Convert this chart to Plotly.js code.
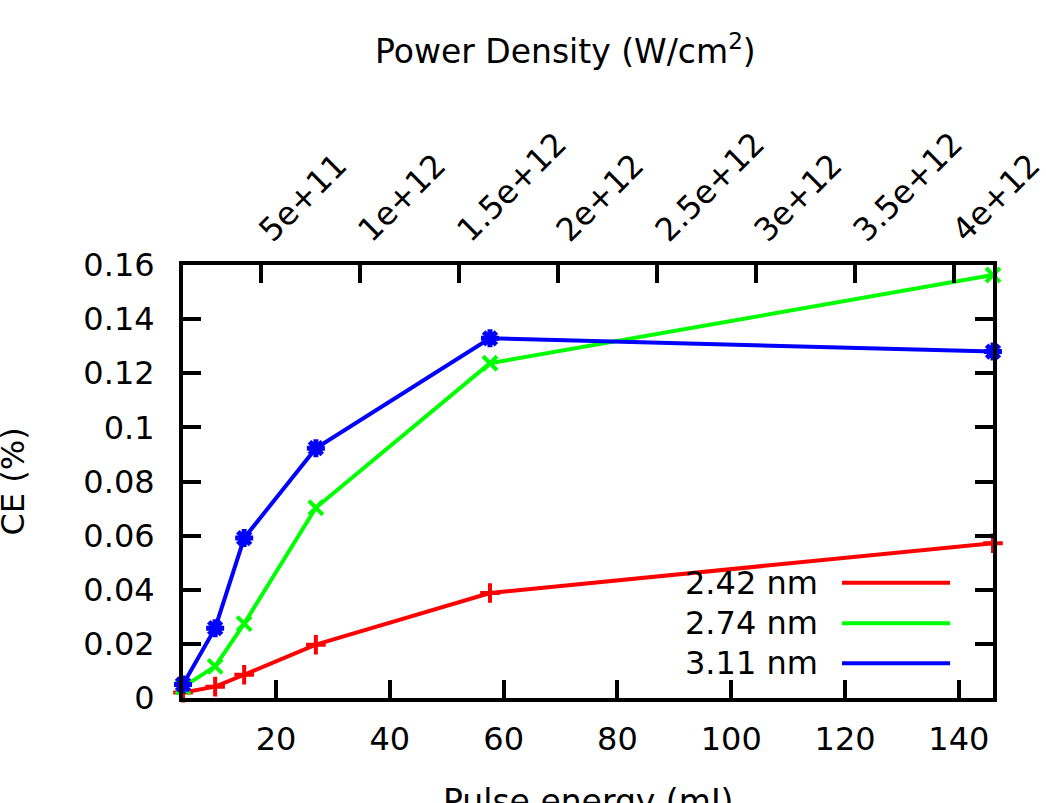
<!DOCTYPE html>
<html>
<head>
<meta charset="utf-8">
<script src="https://cdn.plot.ly/plotly-3.0.1.min.js"></script>
<style>
  html, body { margin: 0; padding: 0; background: #ffffff; }
  #chart { width: 1046px; height: 803px; }
</style>
</head>
<body>
<div id="chart"></div>
<script>
// ---- data ----
const pulseEnergy = [3.65, 9.3, 14.4, 27.0, 57.6, 146];      // mJ
const ce242 = [0.002, 0.0042, 0.0086, 0.0197, 0.0388, 0.0572]; // CE (%) 2.42 nm
const ce274 = [0.004, 0.0117, 0.0275, 0.0703, 0.1237, 0.1563]; // CE (%) 2.74 nm
const ce311 = [0.005, 0.0258, 0.0591, 0.0923, 0.1329, 0.1280]; // CE (%) 3.11 nm
const seriesNames = ['2.42 nm', '2.74 nm', '3.11 nm'];
const seriesColors = ['#ff0000', '#00ff00', '#0000ff'];
const seriesSymbols = ['cross-thin-open', 'x-thin-open', 'asterisk-open'];
const energyTicks = [20, 40, 60, 80, 100, 120, 140];
const powerTicks = [5e11, 1e12, 1.5e12, 2e12, 2.5e12, 3e12, 3.5e12, 4e12];
const powerTickLabels = ['5e+11', '1e+12', '1.5e+12', '2e+12', '2.5e+12', '3e+12', '3.5e+12', '4e+12'];
const powerPerEnergy = 2.873e10; // W/cm^2 per mJ
const yTicks = [0, 0.02, 0.04, 0.06, 0.08, 0.1, 0.12, 0.14, 0.16];
const xTitle = 'Pulse energy (mJ)';
const x2Title = 'Power Density (W/cm<sup>2</sup>)';
const yTitle = 'CE (%)';

const FONT = 'DejaVu Sans, sans-serif';
const seriesValues = [ce242, ce274, ce311];

const traces = seriesValues.map((vals, i) => ({
  type: 'scatter',
  mode: 'lines+markers',
  name: seriesNames[i],
  x: pulseEnergy,
  y: vals,
  cliponaxis: false,
  line: { color: seriesColors[i], width: 4 },
  marker: {
    symbol: seriesSymbols[i],
    size: i === 2 ? 15 : 14,
    color: seriesColors[i],
    line: { color: seriesColors[i], width: i === 2 ? 5 : 4 }
  },
  showlegend: false,
  hoverinfo: 'x+y+name'
}));

// invisible trace to carry the top (power density) axis
traces.push({
  type: 'scatter',
  mode: 'lines',
  x: pulseEnergy.map(e => e * powerPerEnergy),
  y: ce242,
  xaxis: 'x2',
  yaxis: 'y',
  line: { width: 0, color: 'rgba(0,0,0,0)' },
  opacity: 0,
  showlegend: false,
  hoverinfo: 'skip'
});

const axisCommon = {
  showgrid: false,
  zeroline: false,
  showline: true,
  linecolor: '#000000',
  linewidth: 4,
  ticks: 'inside',
  ticklen: 18,
  tickwidth: 4,
  tickcolor: '#000000',
  tickfont: { family: FONT, size: 32, color: '#000000' }
};

// legend drawn gnuplot-style: right-aligned text, then line sample
const legendX0 = 0.7864, lineX0 = 0.8136, lineX1 = 0.947;
const legendY = [0.2663, 0.1725, 0.0801];
const annotations = seriesNames.map((n, i) => ({
  xref: 'paper', yref: 'paper',
  x: legendX0, y: legendY[i],
  xanchor: 'right', yanchor: 'middle',
  text: n, showarrow: false,
  font: { family: FONT, size: 32, color: '#000000' }
}));
// axis titles placed as in the (cropped) reference
annotations.push({
  xref: 'paper', yref: 'paper', x: 0.5, y: -0.189,
  xanchor: 'center', yanchor: 'top', showarrow: false,
  text: xTitle, font: { family: FONT, size: 33, color: '#000000' }
});
annotations.push({
  xref: 'paper', yref: 'paper', x: 0.4728, y: 1.552,
  xanchor: 'center', yanchor: 'top', showarrow: false,
  text: x2Title, font: { family: FONT, size: 33, color: '#000000' }
});
annotations.push({
  xref: 'paper', yref: 'paper', x: -0.2099, y: 0.5,
  xanchor: 'center', yanchor: 'middle', showarrow: false, textangle: -90,
  text: yTitle, font: { family: FONT, size: 32, color: '#000000' }
});
const shapes = seriesNames.map((n, i) => ({
  type: 'line', xref: 'paper', yref: 'paper',
  x0: lineX0, x1: lineX1, y0: legendY[i], y1: legendY[i],
  line: { color: seriesColors[i], width: 4 }
}));

const layout = {
  width: 1046,
  height: 803,
  paper_bgcolor: '#ffffff',
  plot_bgcolor: '#ffffff',
  margin: { l: 183, r: 53, t: 265, b: 105 },
  showlegend: false,
  font: { family: FONT, size: 32, color: '#000000' },
  xaxis: Object.assign({}, axisCommon, {
    range: [pulseEnergy[0], pulseEnergy[pulseEnergy.length - 1]],
    tickvals: energyTicks,
    mirror: false,
    ticklabelstandoff: 10
  }),
  xaxis2: Object.assign({}, axisCommon, {
    overlaying: 'x',
    side: 'top',
    anchor: 'y',
    range: [pulseEnergy[0] * powerPerEnergy, pulseEnergy[pulseEnergy.length - 1] * powerPerEnergy],
    tickvals: powerTicks,
    ticktext: powerTickLabels,
    tickangle: -45,
    ticklabelstandoff: 0,
    ticklabeloverflow: 'allow'
  }),
  yaxis: Object.assign({}, axisCommon, {
    range: [0, 0.16],
    tickvals: yTicks,
    mirror: 'ticks',
    ticklabelstandoff: 18
  }),
  annotations: annotations,
  shapes: shapes
};

Plotly.newPlot('chart', traces, layout, { displayModeBar: false, responsive: false });
</script>
</body>
</html>
